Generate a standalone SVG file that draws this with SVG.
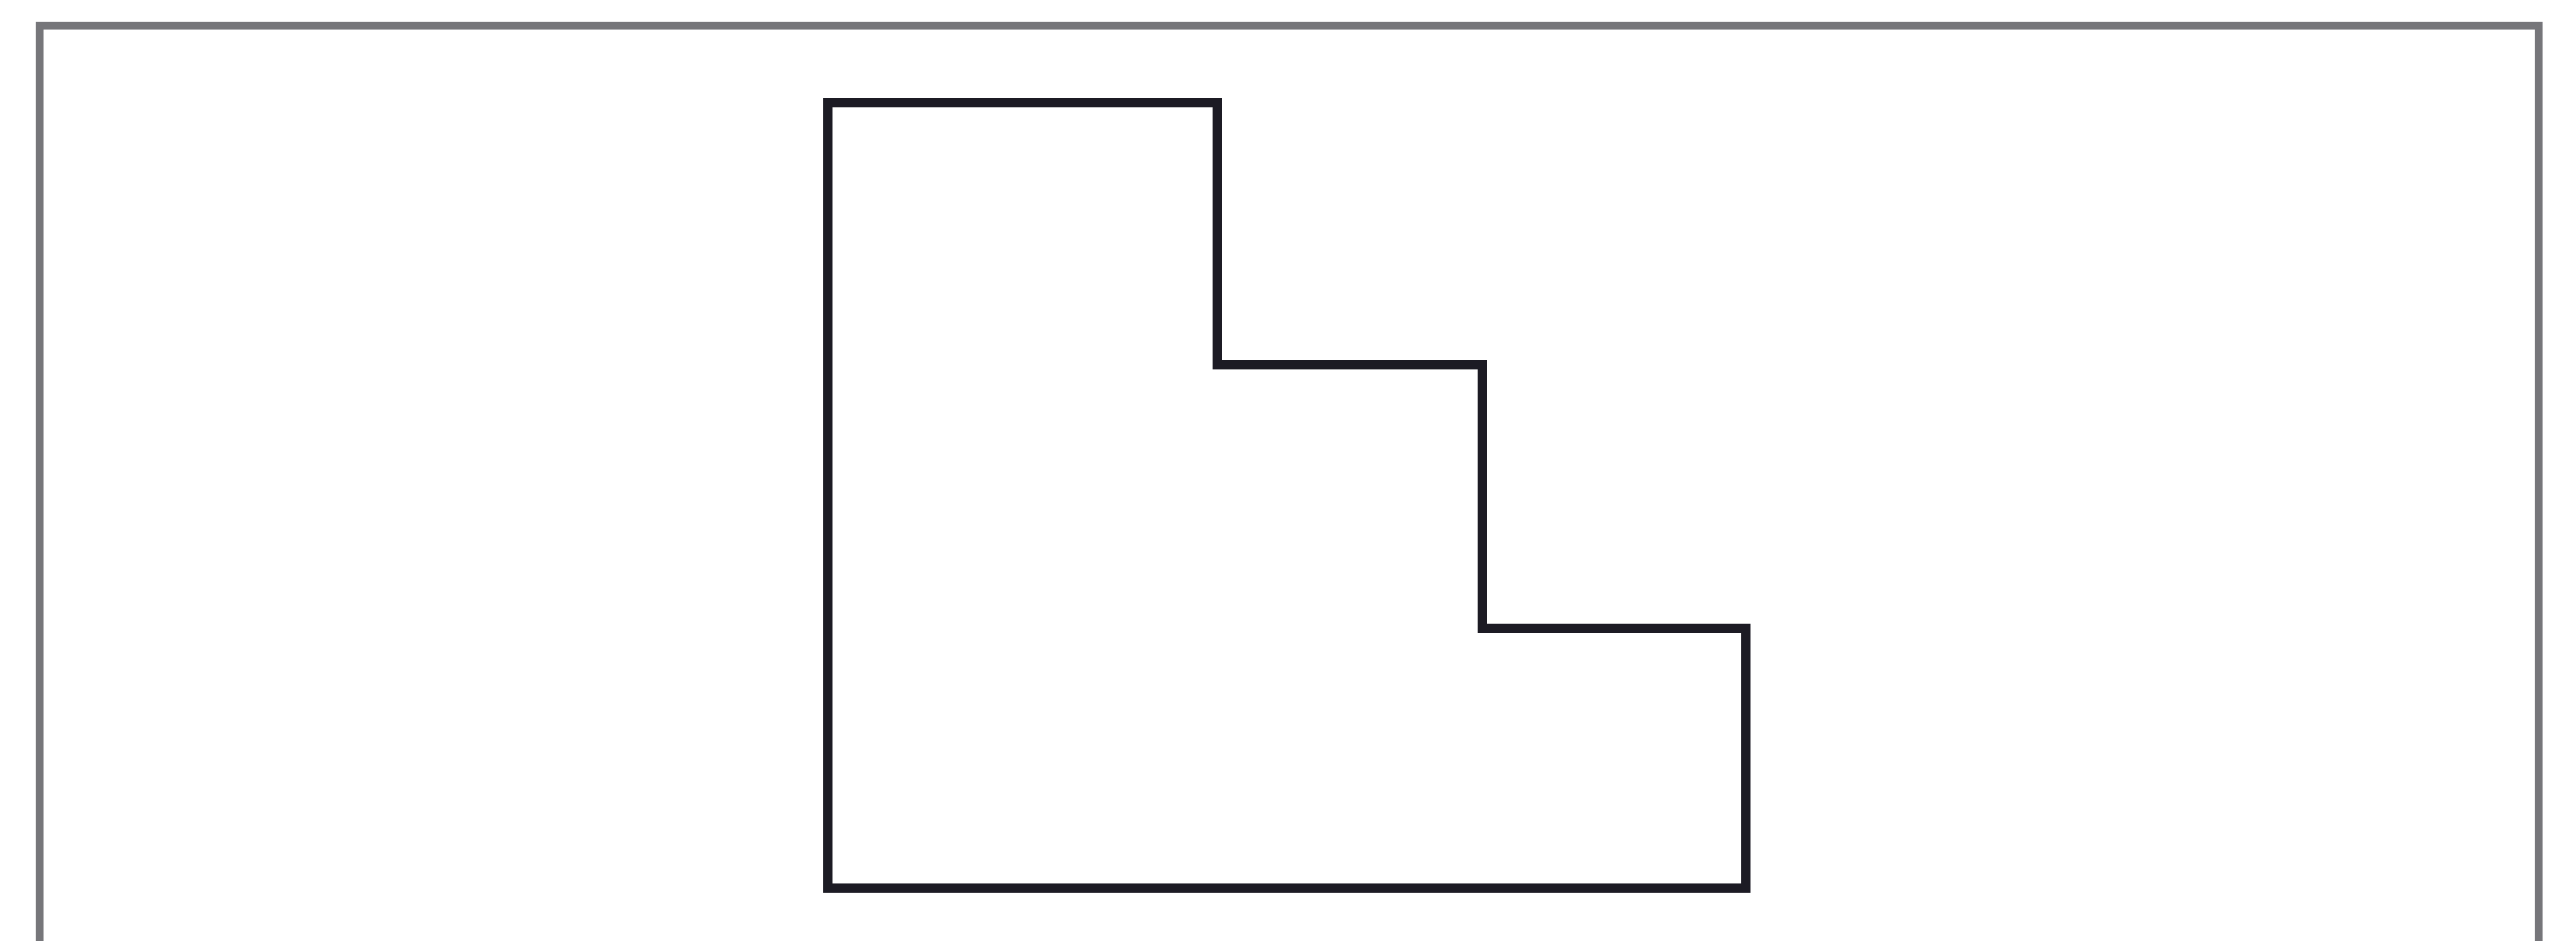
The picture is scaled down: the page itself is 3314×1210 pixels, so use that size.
<svg xmlns="http://www.w3.org/2000/svg" width="3314" height="1210" viewBox="0 0 3314 1210">
<style>
.frame{fill:none;stroke:#76767a;stroke-width:10}
.shape{fill:none;stroke:#1c1b24;stroke-width:12;stroke-linejoin:miter}
</style>
<rect width="3314" height="1210" fill="#ffffff"/>
<g id="frame">
<path class="frame" d="M51,1215 V33 H3266 V1215"/>
</g>
<g id="staircase">
<path class="shape" d="M1065,132 H1566 V469 H1907 V808 H2246 V1142 H1065 Z"/>
</g>
</svg>
